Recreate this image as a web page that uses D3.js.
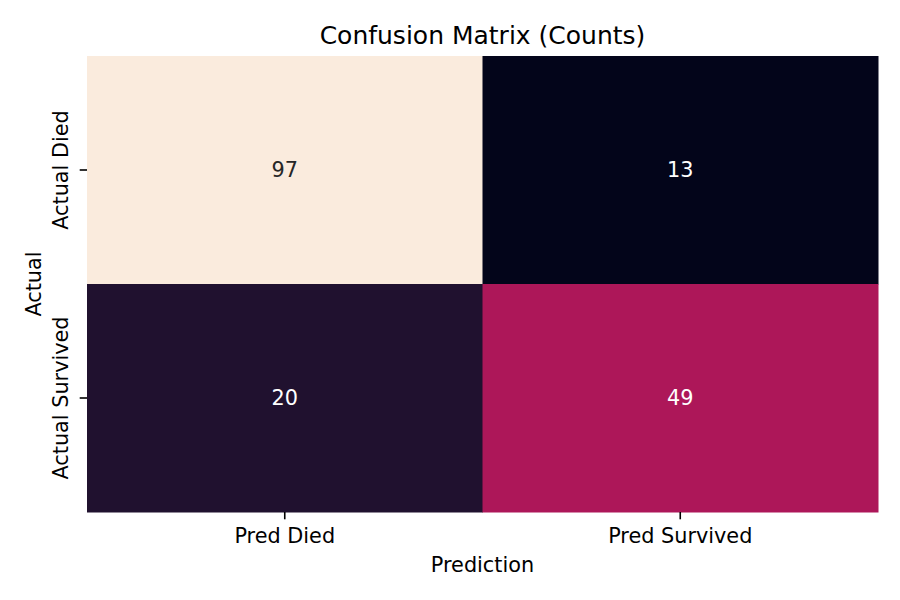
<!DOCTYPE html>
<html>
<head>
<meta charset="utf-8">
<script src="https://cdn.jsdelivr.net/npm/d3@7"></script>
<style>
  body { margin: 0; background: #fff; }
  svg text { font-family: "DejaVu Sans", sans-serif; fill: #000; }
</style>
</head>
<body>
<div id="wrapper"></div>
<script>
// data
const predLabels = ['Pred Died', 'Pred Survived'];
const actualLabels = ['Actual Died', 'Actual Survived'];
const counts = [
  [97, 13],
  [20, 49]
];

// rocket colormap stops
const rocketStops = ['#03051a', '#35193e', '#701f57', '#ad1759', '#e13342', '#f37651', '#f6b48f', '#faebdd'];
const rocketPos = [0, 1 / 7, 2 / 7, 3 / 7, 4 / 7, 5 / 7, 6 / 7, 1];

function drawHeatmap() {
  const dimensions = {
    width: 900,
    height: 600,
    margin: { top: 56, right: 22, bottom: 88, left: 87 }
  };
  dimensions.boundedWidth = dimensions.width - dimensions.margin.left - dimensions.margin.right;
  dimensions.boundedHeight = dimensions.height - dimensions.margin.top - dimensions.margin.bottom;

  const fontSize = '20.8px';

  const cells = [];
  counts.forEach((row, i) => row.forEach((v, j) => cells.push({ actual: actualLabels[i], pred: predLabels[j], value: v })));

  const wrapper = d3.select('#wrapper')
    .append('svg')
    .attr('width', dimensions.width)
    .attr('height', dimensions.height);

  const bounds = wrapper.append('g')
    .attr('transform', `translate(${dimensions.margin.left},${dimensions.margin.top})`);

  // scales
  const xScale = d3.scaleBand().domain(predLabels).range([0, dimensions.boundedWidth]);
  const yScale = d3.scaleBand().domain(actualLabels).range([0, dimensions.boundedHeight]);

  const extent = d3.extent(cells, d => d.value);
  const norm = d3.scaleLinear().domain(extent).range([0, 1]);
  const rocket = d3.scaleLinear().domain(rocketPos).range(rocketStops).interpolate(d3.interpolateRgb);
  const colorScale = v => rocket(norm(v));

  // cells
  bounds.selectAll('rect')
    .data(cells)
    .join('rect')
    .attr('x', d => xScale(d.pred))
    .attr('y', d => yScale(d.actual))
    .attr('width', xScale.bandwidth() + 0.5)
    .attr('height', yScale.bandwidth() + 0.5)
    .attr('fill', d => colorScale(d.value));

  // annotations
  bounds.selectAll('.annot')
    .data(cells)
    .join('text')
    .attr('class', 'annot')
    .attr('x', d => xScale(d.pred) + xScale.bandwidth() / 2)
    .attr('y', d => yScale(d.actual) + yScale.bandwidth() / 2)
    .attr('text-anchor', 'middle')
    .attr('dy', '0.36em')
    .style('font-size', fontSize)
    .style('fill', d => d3.hsl(colorScale(d.value)).l > 0.5 ? '#262626' : '#ffffff')
    .text(d => d.value);

  // axes
  const xAxis = bounds.append('g')
    .attr('transform', `translate(0,${dimensions.boundedHeight})`)
    .call(d3.axisBottom(xScale).tickSize(7.3).tickPadding(7.3));
  xAxis.select('.domain').remove();
  xAxis.selectAll('text')
    .style('font-size', fontSize)
    .attr('y', null).attr('dy', null)
    .attr('transform', 'translate(0,31)');
  xAxis.selectAll('line').attr('stroke', '#000').attr('stroke-width', 1.6);

  const yAxis = bounds.append('g')
    .call(d3.axisLeft(yScale).tickSize(7.3).tickPadding(7.3));
  yAxis.select('.domain').remove();
  yAxis.selectAll('line').attr('stroke', '#000').attr('stroke-width', 1.6);
  yAxis.selectAll('text')
    .style('font-size', fontSize)
    .attr('x', null).attr('dy', null)
    .attr('text-anchor', 'middle')
    .attr('transform', 'translate(-19,0) rotate(-90)');

  // labels
  wrapper.append('text')
    .attr('x', dimensions.margin.left + dimensions.boundedWidth / 2)
    .attr('y', 572)
    .attr('text-anchor', 'middle')
    .style('font-size', fontSize)
    .text('Prediction');

  wrapper.append('text')
    .attr('transform', `translate(41,${dimensions.margin.top + dimensions.boundedHeight / 2}) rotate(-90)`)
    .attr('text-anchor', 'middle')
    .style('font-size', fontSize)
    .text('Actual');

  wrapper.append('text')
    .attr('x', dimensions.margin.left + dimensions.boundedWidth / 2)
    .attr('y', 44)
    .attr('text-anchor', 'middle')
    .style('font-size', '25px')
    .text('Confusion Matrix (Counts)');
}
drawHeatmap();
</script>
</body>
</html>
